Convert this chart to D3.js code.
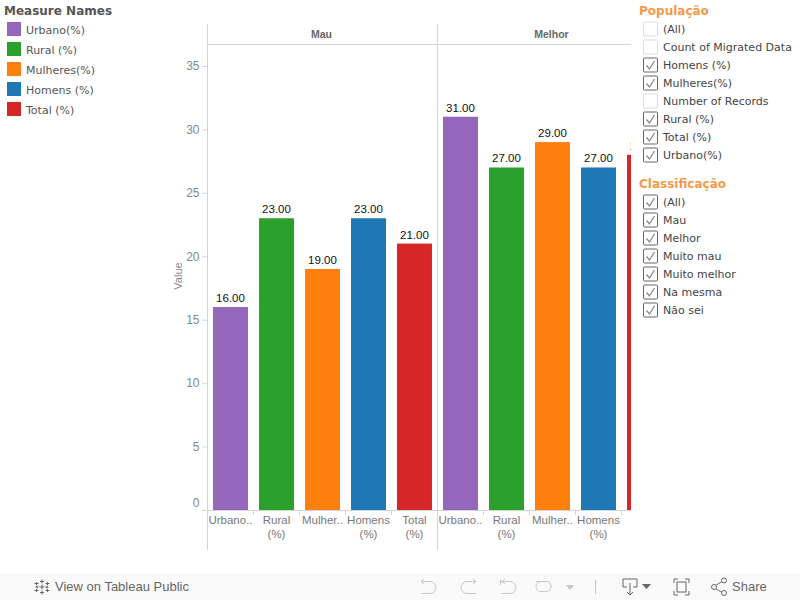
<!DOCTYPE html>
<html>
<head>
<meta charset="utf-8">
<script src="https://cdn.jsdelivr.net/npm/d3@7"></script>
<style>
    html, body { margin: 0; padding: 0; background: #fff; }
    svg { display: block; }
    .legend-text { font-family: "DejaVu Sans", sans-serif; font-size: 11px; fill: #555; }
    .filter-text { font-family: "DejaVu Sans", sans-serif; font-size: 11px; fill: #444; }
    .legend-title { font-family: "DejaVu Sans", sans-serif; font-size: 12px; font-weight: bold; fill: #555; }
    .filter-title { font-family: "DejaVu Sans", sans-serif; font-size: 12px; font-weight: bold; fill: #f5994b; }
    .axis-text { font-family: "Liberation Sans", sans-serif; font-size: 12px; fill: #888; }
    .cat-text { font-family: "Liberation Sans", sans-serif; font-size: 11.5px; fill: #777; }
    .bar-label { font-family: "Liberation Sans", sans-serif; font-size: 11.5px; fill: #111; }
    .panel-title { font-family: "Liberation Sans", sans-serif; font-size: 10.5px; font-weight: bold; fill: #666; }
    .footer-text { font-family: "Liberation Sans", sans-serif; font-size: 13px; fill: #666; }
</style>
</head>
<body>
<svg id="chart" width="800" height="600"></svg>
<script>
const panels = ["Mau", "Melhor"]
const measures = ["Urbano(%)", "Rural (%)", "Mulheres(%)", "Homens (%)", "Total (%)"]
const measureColors = ["#9467bd", "#2ca02c", "#ff7f0e", "#1f77b4", "#d62728"]
const mauValues = [16, 23, 19, 23, 21]
const melhorValues = [31, 27, 29, 27, 28]
const tickLabels = [["Urbano.."], ["Rural", "(%)"], ["Mulher.."], ["Homens", "(%)"], ["Total", "(%)"]]
const valueTicks = [0, 5, 10, 15, 20, 25, 30, 35]

const populacao = ["(All)", "Count of Migrated Data", "Homens (%)", "Mulheres(%)", "Number of Records", "Rural (%)", "Total (%)", "Urbano(%)"]
const populacaoChecked = [false, false, true, true, false, true, true, true]
const classificacao = ["(All)", "Mau", "Melhor", "Muito mau", "Muito melhor", "Na mesma", "Não sei"]
const classificacaoChecked = [true, true, true, true, true, true, true]

const svg = d3.select("#chart")
const lineColor = "#d4d4d4"

const plot = { left: 207.5, right: 631, top: 24, header: 44, bottom: 510, end: 550 }
const panelWidth = 230

svg.append("clipPath").attr("id", "plot-clip")
    .append("rect")
    .attr("x", plot.left).attr("y", 0)
    .attr("width", plot.right - plot.left).attr("height", 600)

const y = d3.scaleLinear().domain([0, 35]).range([plot.bottom, 66])
const panelX = d3.scaleBand().domain(panels)
    .range([plot.left, plot.left + panelWidth * panels.length])

const plotArea = svg.append("g").attr("clip-path", "url(#plot-clip)")

// y axis
const yAxis = d3.axisLeft(y).tickValues(valueTicks).tickSize(5).tickPadding(3)
const yG = svg.append("g")
    .attr("transform", `translate(${plot.left},0)`)
    .call(yAxis)
yG.select(".domain").remove()
yG.selectAll(".tick line").attr("stroke", lineColor)
yG.selectAll(".tick text")
    .attr("class", "axis-text")
    .attr("font-family", null)
    .attr("font-size", null)
    // tableau lifts the bottom label so it stays inside the pane
    .attr("y", d => d === 0 ? -7 : 0)

svg.append("text")
    .attr("class", "axis-text")
    .attr("transform", `translate(182,${y(17.5) - 12}) rotate(-90)`)
    .attr("text-anchor", "middle")
    .style("font-size", "11px")
    .text("Value")

// frame lines
svg.append("line").attr("x1", plot.left).attr("x2", plot.right)
    .attr("y1", plot.header + 0.5).attr("y2", plot.header + 0.5).attr("stroke", lineColor)
svg.append("line").attr("x1", plot.left - 5).attr("x2", plot.right)
    .attr("y1", plot.bottom + 0.5).attr("y2", plot.bottom + 0.5).attr("stroke", lineColor)

panels.forEach((panel, i) => {
    const values = i === 0 ? mauValues : melhorValues
    const x0 = panelX(panel)
    const x = d3.scaleBand().domain(measures)
        .range([x0, x0 + panelWidth])
        .paddingInner(0.24)
        .paddingOuter(0.12)

    svg.append("line")
        .attr("x1", x0).attr("x2", x0)
        .attr("y1", plot.top).attr("y2", plot.end)
        .attr("stroke", lineColor)

    plotArea.append("text")
        .attr("class", "panel-title")
        .attr("x", x0 + panelWidth / 2 - 1).attr("y", 38)
        .attr("text-anchor", "middle")
        .text(panel)

    const g = plotArea.append("g")

    g.selectAll("rect")
        .data(values)
        .join("rect")
        .attr("x", (d, j) => x(measures[j]))
        .attr("y", d => y(d))
        .attr("width", x.bandwidth())
        .attr("height", d => y(0) - y(d))
        .attr("fill", (d, j) => measureColors[j])

    g.selectAll(".bar-label")
        .data(values)
        .join("text")
        .attr("class", "bar-label")
        .attr("x", (d, j) => x(measures[j]) + x.bandwidth() / 2)
        .attr("y", d => y(d) - 5)
        .attr("text-anchor", "middle")
        .text(d => d.toFixed(2))

    // separators between the categories
    g.selectAll(".sep")
        .data(measures.slice(1))
        .join("line")
        .attr("class", "sep")
        .attr("x1", d => x(d) - x.step() * 0.12)
        .attr("x2", d => x(d) - x.step() * 0.12)
        .attr("y1", plot.bottom)
        .attr("y2", plot.bottom + 5)
        .attr("stroke", lineColor)

    const tick = g.selectAll(".cat")
        .data(tickLabels)
        .join("text")
        .attr("class", "cat-text cat")
        .attr("text-anchor", "middle")
        .attr("y", 524)

    tick.selectAll("tspan")
        .data((d, j) => d.map(t => ({ t, j })))
        .join("tspan")
        .attr("x", d => x(measures[d.j]) + x.bandwidth() / 2)
        .attr("dy", (d, k) => k === 0 ? 0 : 13.5)
        .text(d => d.t)
})

// legend
svg.append("text").attr("class", "legend-title").attr("x", 4).attr("y", 14.5).text("Measure Names")
const legend = svg.selectAll(".legend-item")
    .data(measures)
    .join("g")
    .attr("class", "legend-item")
    .attr("transform", (d, i) => `translate(7,${22 + i * 20})`)
legend.append("rect").attr("width", 14).attr("height", 14).attr("fill", (d, i) => measureColors[i])
legend.append("text").attr("class", "legend-text").attr("x", 19).attr("y", 11.5).text(d => d)

// filter cards
const drawFilter = (title, titleY, items, checked) => {
    svg.append("text").attr("class", "filter-title").attr("x", 639).attr("y", titleY).text(title)
    const row = svg.append("g").selectAll("g")
        .data(items)
        .join("g")
        .attr("transform", (d, i) => `translate(643.5,${titleY + 7.5 + i * 18})`)
    row.append("rect")
        .attr("width", 14).attr("height", 14).attr("rx", 1)
        .attr("fill", "#fff")
        .attr("stroke", (d, i) => checked[i] ? "#666" : "#ddd")
    row.filter((d, i) => checked[i]).append("path")
        .attr("d", "M3 7.5 L6 11 L11 3")
        .attr("fill", "none").attr("stroke", "#888").attr("stroke-width", 1.3)
    row.append("text").attr("class", "filter-text").attr("x", 19.5).attr("y", 11).text(d => d)
}
drawFilter("População", 14.5, populacao, populacaoChecked)
drawFilter("Classificação", 187.5, classificacao, classificacaoChecked)

// tableau toolbar
const footer = svg.append("g")
footer.append("rect").attr("x", 0).attr("y", 573).attr("width", 800).attr("height", 27).attr("fill", "#fafafa")
footer.append("text").attr("class", "footer-text").attr("x", 55).attr("y", 591).text("View on Tableau Public")
footer.append("text").attr("class", "footer-text").attr("x", 732).attr("y", 591).text("Share")

const logo = footer.append("g").attr("transform", "translate(42,587)").attr("stroke", "#666").attr("fill", "none")
logo.append("path").attr("d", "M-2.5 0H2.5M0 -2.5V2.5M-2 -5.5H2M0 -7.5V-3.5M-2 5.5H2M0 3.5V7.5M-6.5 0H-3.5M-5 -1.5V1.5M3.5 0H6.5M5 -1.5V1.5M-7.5 -3.5H-3.5M-5.5 -5V-2M3.5 -3.5H7.5M5.5 -5V-2M-7.5 3.5H-3.5M-5.5 2V5M3.5 3.5H7.5M5.5 2V5")

const icon = (d, stroke) => footer.append("path").attr("d", d).attr("fill", "none").attr("stroke", stroke).attr("stroke-width", 1)
const faint = "#c8c8c8", dark = "#666"
icon("M421 581.5H430a6 6 0 0 1 0 12H421M424 579L421 581.5L424 584", faint)
icon("M476 581.5H467a6 6 0 0 0 0 12H476M473 579L476 581.5L473 584", faint)
icon("M500.5 579V585M501 581.5H510a6 6 0 0 1 0 12H501M505 579L501.5 581.5L505 584", faint)
icon("M542 581.5H541a5 5 0 0 0 0 10H546a5 5 0 0 0 5 -5v-1a4 4 0 0 0 -4 -4H536", faint)
footer.append("path").attr("d", "M566 585H574L570 590Z").attr("fill", faint)
icon("M595.5 580V594", faint)
icon("M627 587H623V579H637V587H633M630 583V595M627 592L630 595L633 592", dark)
footer.append("path").attr("d", "M642 584H651L646.5 589Z").attr("fill", dark)
icon("M674 583V579H678M685 579H689V583M689 591V595H685M678 595H674V591", dark)
footer.append("rect").attr("x", 677).attr("y", 582).attr("width", 9).attr("height", 10).attr("fill", "none").attr("stroke", dark)
icon("M715.5 585.5L722 581.5M715.5 588.5L722 592.5", dark)
footer.selectAll(".share-dot")
    .data([[714, 587], [724, 580.5], [724, 593]])
    .join("circle")
    .attr("class", "share-dot")
    .attr("cx", d => d[0]).attr("cy", d => d[1]).attr("r", 2.5)
    .attr("fill", "#fafafa").attr("stroke", dark)
</script>
</body>
</html>
